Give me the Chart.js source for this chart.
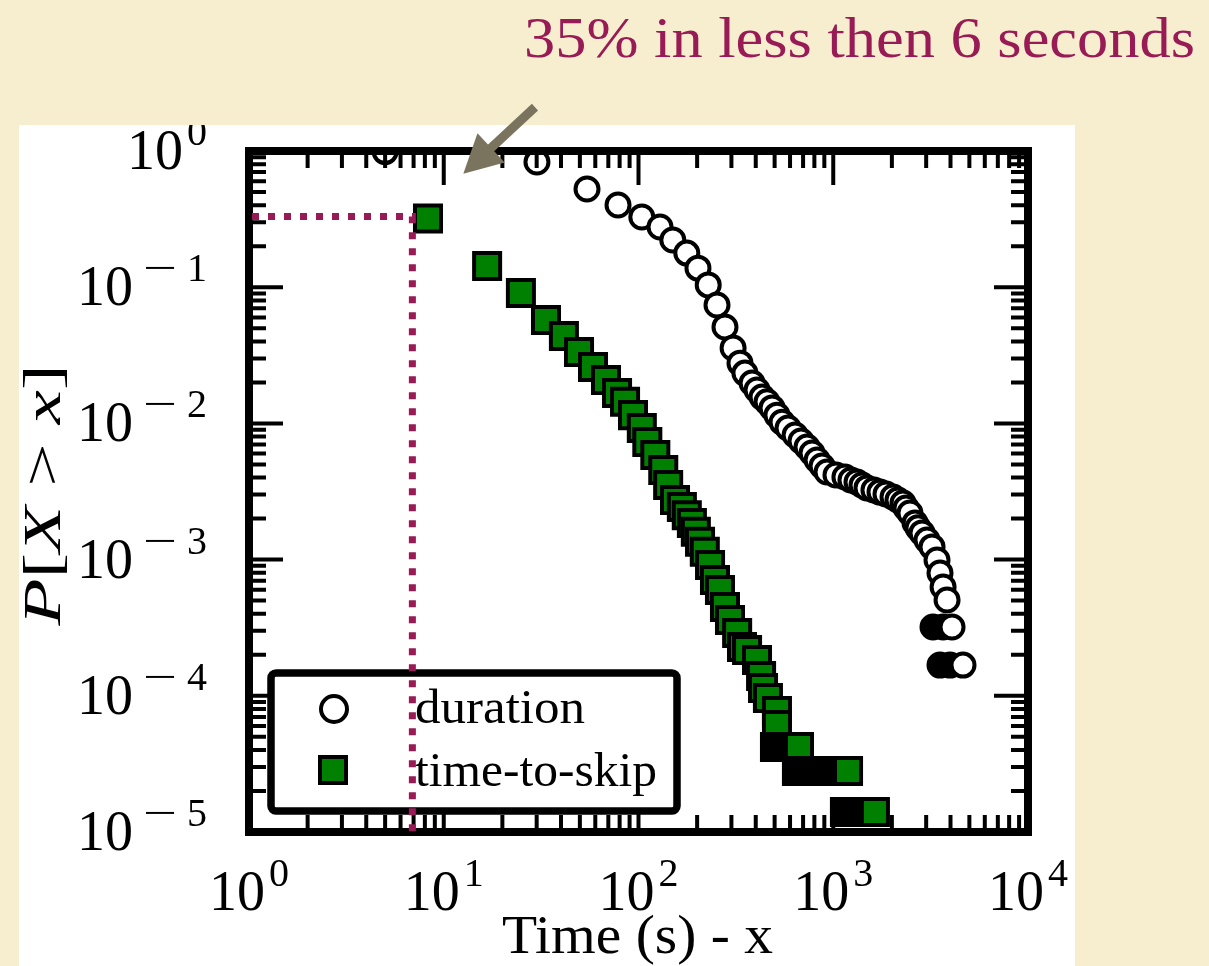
<!DOCTYPE html>
<html>
<head>
<meta charset="utf-8">
<script src="https://cdn.jsdelivr.net/npm/chart.js@4.4.1/dist/chart.umd.min.js"></script>
<style>
  html, body { margin: 0; padding: 0; background: #f7edcf; }
  #wrap { width: 1209px; height: 966px; }
</style>
</head>
<body>
<div id="wrap"><canvas id="myChart" width="1209" height="966"></canvas></div>
<script>
// CCDF of session duration (open circles)
const durationX = [5.0, 30.1, 54.4, 78.5, 104, 129, 150, 177, 202, 228, 253, 278, 306, 332, 352,
  383, 406, 431, 457, 485, 514, 546, 586, 637, 683, 733, 778, 826, 876, 929, 1033, 1148, 1233,
  1324, 1405, 1490, 1618, 1738, 1866, 2027, 2149, 2280, 2364, 2477, 2630, 2723, 2856, 3029, 3215,
  3410, 3533, 3664, 3840, 3252, 3664, 4073, 3533, 3978, 4637];
const durationY = [0.99, 0.83, 0.526, 0.401, 0.328, 0.277, 0.222, 0.178, 0.138, 0.104, 0.074, 0.051,
  0.0358, 0.0277, 0.0234, 0.0198, 0.0176, 0.0156, 0.0144, 0.0130, 0.0115, 0.0102, 0.00925, 0.00822,
  0.00743, 0.00671, 0.00607, 0.00538, 0.00487, 0.00440, 0.00418, 0.00404, 0.00384, 0.00371, 0.00353,
  0.00336, 0.00324, 0.00313, 0.00303, 0.00288, 0.00274, 0.00260, 0.00239, 0.00220, 0.00186, 0.00171,
  0.00157, 0.00139, 0.00124, 0.000993, 0.000798, 0.000629, 0.000505, 0.00032, 0.00032, 0.00032,
  0.000168, 0.000168, 0.000168];

// CCDF of time-to-skip (green squares)
const skipX = [8.30, 16.7, 24.9, 33.5, 41.4, 49.5, 58.4, 68.1, 77.6, 85.3, 93.7, 104, 111, 122, 134,
  142, 154, 167, 177, 188, 197, 207, 219, 233, 247, 262, 278, 295, 321, 340, 361, 406, 426, 436, 462,
  514, 514, 502, 579, 667, 651, 778, 929, 1191, 1148, 1372, 1637];
const skipY = [0.32, 0.143, 0.0906, 0.0574, 0.0438, 0.0334, 0.0259, 0.0208, 0.0167, 0.0144, 0.0115,
  0.00925, 0.0073, 0.00586, 0.00455, 0.00353, 0.00274, 0.00243, 0.00212, 0.00186, 0.0016, 0.00135,
  0.00114, 0.000912, 0.000708, 0.000598, 0.000449, 0.00036, 0.000289, 0.000228, 0.000217, 0.000183,
  0.00014, 0.000114, 0.0000964, 0.0000773, 0.0000611, 4.2e-5, 4.2e-5, 4.2e-5, 2.8e-5, 2.8e-5, 2.8e-5,
  2.8e-5, 1.4e-5, 1.4e-5, 1.4e-5];

const xTickValues = [1, 10, 100, 1000, 10000];
const xTickExps = ['0', '1', '2', '3', '4'];
const yTickValues = [1, 0.1, 0.01, 0.001, 0.0001, 0.00001];
const yTickExps = ['0', '1', '2', '3', '4', '5'];
const seriesNames = ['duration', 'time-to-skip'];

// annotation: 35% point
const markX = 6.9;
const markY = 0.33;
const arrowFrom = [29.4, 2.1];
const arrowTo = [12.6, 0.68];
const titleText = '35% in less then 6 seconds';
const xTitle = 'Time (s) - x';

const SERIF = '"Liberation Serif", "DejaVu Serif", serif';
const GREEN = '#008000';
const MAROON = '#981b56';

const toPoints = (xs, ys) => xs.map((x, i) => ({ x: x, y: ys[i] }));

// points that share their P value with the next one are drawn as a black block
const tieColor = (fill) => (c) => {
    if (c.dataIndex === undefined) return fill;
    const d = c.dataset.data;
    const i = c.dataIndex;
    return (i < d.length - 1 && d[i + 1].y === d[i].y) ? '#000' : fill;
};

// draw text squeezed/stretched horizontally to a given width
const fitText = (ctx, text, x, y, font, width, align) => {
    ctx.save();
    ctx.font = font;
    const w = ctx.measureText(text).width;
    ctx.translate(x, y);
    ctx.scale(width ? width / w : 1, 1);
    ctx.textAlign = align || 'left';
    ctx.fillText(text, 0, 0);
    ctx.restore();
};

// "10" with a superscript exponent
const drawPower = (ctx, exp, neg, x, y, align) => {
    ctx.save();
    ctx.fillStyle = '#000';
    ctx.textAlign = 'left';
    ctx.font = '56px ' + SERIF;
    const baseW = ctx.measureText('10').width;
    ctx.font = '40px ' + SERIF;
    const digW = ctx.measureText(exp).width;
    const minusW = neg ? 34 : 0;
    const gap = neg ? 10 : 4;
    const total = baseW + gap + minusW + (neg ? 10 : 0) + digW;
    let x0 = align === 'right' ? x - total : x - total / 2;
    ctx.font = '56px ' + SERIF;
    ctx.fillText('10', x0, y);
    let sx = x0 + baseW + gap;
    if (neg) {
        fitText(ctx, '\u2212', sx, y - 24, '40px ' + SERIF, minusW, 'left');
        sx += minusW + 10;
    }
    ctx.font = '40px ' + SERIF;
    ctx.fillText(exp, sx, y - 24);
    ctx.restore();
};

const decor = {
    id: 'decor',
    beforeDraw(chart) {
        const c = chart.ctx;
        c.save();
        c.fillStyle = '#f7edcf';
        c.fillRect(0, 0, chart.width, chart.height);
        c.fillStyle = '#ffffff';
        c.fillRect(19, 125, 1056, 841);
        c.restore();
    },
    afterDatasetsDraw(chart) {
        const c = chart.ctx;
        const a = chart.chartArea;
        const xs = chart.scales.x;
        const ys = chart.scales.y;

        c.save();
        // inward ticks on all four sides
        c.strokeStyle = '#000';
        c.lineWidth = 4;
        c.beginPath();
        for (let k = 0; k < 4; k++) {
            for (let m = 1; m < 10; m++) {
                const px = xs.getPixelForValue(m * Math.pow(10, k));
                const len = m === 1 ? 34 : 17;
                c.moveTo(px, a.bottom); c.lineTo(px, a.bottom - len);
                c.moveTo(px, a.top); c.lineTo(px, a.top + len);
            }
        }
        for (let k = -5; k < 0; k++) {
            for (let m = 1; m < 10; m++) {
                const py = ys.getPixelForValue(m * Math.pow(10, k));
                const len = m === 1 ? 34 : 17;
                c.moveTo(a.left, py); c.lineTo(a.left + len, py);
                c.moveTo(a.right, py); c.lineTo(a.right - len, py);
            }
        }
        c.stroke();

        // frame
        c.lineWidth = 8;
        c.strokeRect(a.left, a.top, a.right - a.left, a.bottom - a.top);

        // everything on the white panel is clipped to it
        c.save();
        c.beginPath();
        c.rect(19, 125, 1056, 841);
        c.clip();

        xTickValues.forEach((v, i) => {
            drawPower(c, xTickExps[i], false, xs.getPixelForValue(v), 910, 'center');
        });
        yTickValues.forEach((v, i) => {
            drawPower(c, yTickExps[i], i > 0, 207, ys.getPixelForValue(v) + 18, 'right');
        });

        // axis titles
        c.fillStyle = '#000';
        fitText(c, xTitle, (a.left + a.right) / 2 - 1, 953, '54px ' + SERIF, 271, 'center');

        const parts = [['P', true], ['[', false], ['X', true], [' > ', false], ['x', true], [']', false]];
        c.save();
        c.translate(60, 495);
        c.rotate(-Math.PI / 2);
        let tw = 0;
        parts.forEach(p => { c.font = (p[1] ? 'italic ' : '') + '52px ' + SERIF; tw += c.measureText(p[0]).width; });
        c.scale(261 / tw, 1);
        let cx = -tw / 2;
        parts.forEach(p => {
            c.font = (p[1] ? 'italic ' : '') + '52px ' + SERIF;
            c.fillText(p[0], cx, 0);
            cx += c.measureText(p[0]).width;
        });
        c.restore();

        // legend box
        const lx = a.left + 22, ly = 673, lw = 406, lh = 138;
        c.beginPath();
        c.roundRect(lx, ly, lw, lh, 5);
        c.fillStyle = '#fff';
        c.fill();
        c.lineWidth = 7.5;
        c.strokeStyle = '#000';
        c.stroke();

        c.lineWidth = 4;
        c.beginPath();
        c.arc(334, 709, 13, 0, Math.PI * 2);
        c.fillStyle = '#fff';
        c.fill();
        c.stroke();
        c.fillStyle = GREEN;
        c.fillRect(320, 757, 26, 26);
        c.strokeRect(320, 757, 26, 26);

        c.fillStyle = '#000';
        fitText(c, seriesNames[0], 415, 723, '48px ' + SERIF, 170, 'left');
        fitText(c, seriesNames[1], 415, 786, '48px ' + SERIF, 242, 'left');

        // dotted guide to the 35% point
        const gx = xs.getPixelForValue(markX);
        const gy = ys.getPixelForValue(markY);
        c.beginPath();
        c.moveTo(a.left + 3, gy);
        c.lineTo(gx, gy);
        c.lineTo(gx, a.bottom + 4);
        c.setLineDash([7, 9]);
        c.lineWidth = 7;
        c.strokeStyle = MAROON;
        c.stroke();
        c.setLineDash([]);
        c.restore();

        // arrow
        const x1 = xs.getPixelForValue(arrowFrom[0]), y1 = ys.getPixelForValue(arrowFrom[1]);
        const x2 = xs.getPixelForValue(arrowTo[0]), y2 = ys.getPixelForValue(arrowTo[1]);
        const dx = x2 - x1, dy = y2 - y1, dl = Math.hypot(dx, dy);
        const ux = dx / dl, uy = dy / dl;
        const bx = x2 - 38 * ux, by = y2 - 38 * uy;
        c.strokeStyle = '#7a745f';
        c.fillStyle = '#7a745f';
        c.lineWidth = 9;
        c.beginPath();
        c.moveTo(x1, y1);
        c.lineTo(bx + 4 * ux, by + 4 * uy);
        c.stroke();
        c.beginPath();
        c.moveTo(x2, y2);
        c.lineTo(bx - 20 * uy, by + 20 * ux);
        c.lineTo(bx + 20 * uy, by - 20 * ux);
        c.closePath();
        c.fill();

        // headline
        c.fillStyle = MAROON;
        fitText(c, titleText, 1195, 57, '58px ' + SERIF, 671, 'right');
        c.restore();
    }
};

const ctx = document.getElementById('myChart').getContext('2d');
new Chart(ctx, {
    type: 'scatter',
    data: {
        datasets: [{
            label: seriesNames[0],
            data: toPoints(durationX, durationY),
            pointStyle: 'circle',
            pointRadius: 11.5,
            pointHoverRadius: 11.5,
            pointBorderWidth: 4,
            pointHoverBorderWidth: 4,
            pointBorderColor: '#000',
            pointBackgroundColor: tieColor('#fff'),
            showLine: false
        }, {
            label: seriesNames[1],
            data: toPoints(skipX, skipY),
            pointStyle: 'rect',
            pointRadius: 18.4,
            pointHoverRadius: 18.4,
            pointBorderWidth: 4,
            pointHoverBorderWidth: 4,
            pointBorderColor: '#000',
            pointBackgroundColor: tieColor(GREEN),
            showLine: false
        }]
    },
    options: {
        responsive: false,
        animation: false,
        devicePixelRatio: 1,
        events: [],
        layout: { padding: { left: 249, top: 151, right: 181, bottom: 134 } },
        scales: {
            x: { type: 'logarithmic', min: 1, max: 10000, display: false },
            y: { type: 'logarithmic', min: 0.00001, max: 1, display: false }
        },
        plugins: {
            legend: { display: false },
            tooltip: { enabled: false }
        }
    },
    plugins: [decor]
});
</script>
</body>
</html>
